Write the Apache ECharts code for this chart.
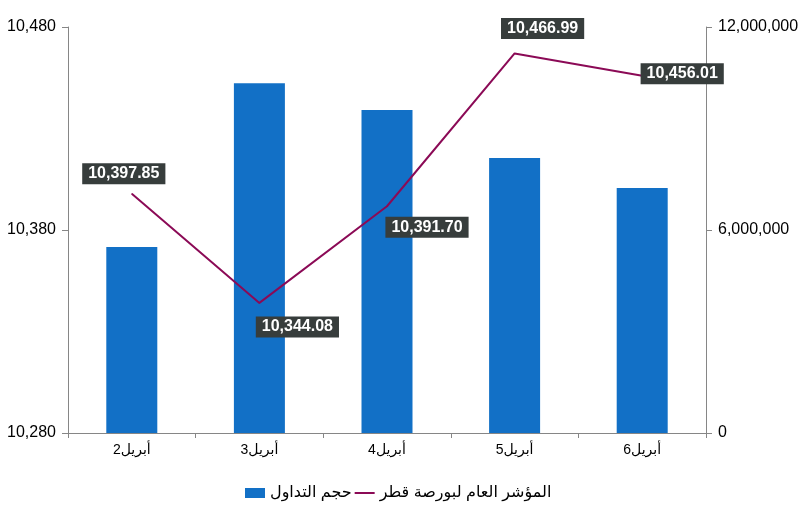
<!DOCTYPE html>
<html>
<head>
<meta charset="utf-8">
<script src="https://cdn.jsdelivr.net/npm/echarts@6/dist/echarts.min.js"></script>
<style>
  html, body { margin: 0; padding: 0; background: #fff; }
  #chart { width: 807px; height: 509px; }
</style>
</head>
<body>
<div id="chart"></div>
<script>
const categories = ['أبريل2', 'أبريل3', 'أبريل4', 'أبريل5', 'أبريل6'];
const volumeValues = [5500000, 10340000, 9550000, 8130000, 7240000];
const indexValues = [10397.85, 10344.08, 10391.70, 10466.99, 10456.01];
const volumeName = 'حجم التداول';
const indexName = 'المؤشر العام لبورصة قطر';
// label nudges, px from the point
const labelOffsets = [[-8, -20], [38, 24], [40, 21], [28, -25], [40, -2]];

const font = '"Liberation Sans", Arial, "DejaVu Sans", sans-serif';
const axisGrey = '#868686';
const lineColor = '#8B0A56';

const chart = echarts.init(document.getElementById('chart'));

chart.setOption({
  animation: false,
  textStyle: { fontFamily: font },
  grid: { left: 68, right: 101, top: 27, bottom: 76 },
  legend: {
    top: 480,
    left: 240,
    itemGap: 3,
    itemWidth: 20,
    itemHeight: 10,
    textStyle: { fontSize: 16, color: '#000', fontFamily: font },
    data: [
      { name: volumeName, icon: 'rect' },
      { name: indexName, icon: 'path://M0,0H20V2H0Z' }
    ]
  },
  xAxis: {
    type: 'category',
    data: categories,
    axisLine: { lineStyle: { color: axisGrey } },
    axisTick: { show: true, length: 5, lineStyle: { color: axisGrey } },
    axisLabel: { color: '#000', fontSize: 14, margin: 10, fontFamily: font }
  },
  yAxis: [
    {
      type: 'value',
      min: 10280,
      max: 10480,
      interval: 100,
      position: 'left',
      splitLine: { show: false },
      axisLine: { show: true, lineStyle: { color: axisGrey } },
      axisTick: { show: true, length: 6, lineStyle: { color: axisGrey } },
      axisLabel: {
        color: '#000', fontSize: 16, margin: 12,
        formatter: v => v.toLocaleString('en-US')
      }
    },
    {
      type: 'value',
      min: 0,
      max: 12000000,
      interval: 6000000,
      position: 'right',
      splitLine: { show: false },
      axisLine: { show: true, lineStyle: { color: axisGrey } },
      axisTick: { show: true, length: 6, lineStyle: { color: axisGrey } },
      axisLabel: {
        color: '#000', fontSize: 16, margin: 12,
        formatter: v => v.toLocaleString('en-US')
      }
    }
  ],
  series: [
    {
      name: volumeName,
      type: 'bar',
      yAxisIndex: 1,
      barWidth: 51,
      itemStyle: { color: '#1270C6' },
      data: volumeValues
    },
    {
      name: indexName,
      type: 'line',
      yAxisIndex: 0,
      symbol: 'circle',
      symbolSize: 1,
      itemStyle: { color: lineColor },
      lineStyle: { color: lineColor, width: 2 },
      data: indexValues.map((v, i) => ({
        value: v,
        label: {
          show: true,
          position: 'inside',
          offset: labelOffsets[i],
          formatter: p => p.value.toLocaleString('en-US', { minimumFractionDigits: 2, maximumFractionDigits: 2 }),
          color: '#fff',
          fontWeight: 'bold',
          fontSize: 16,
          fontFamily: font,
          backgroundColor: '#373D3C',
          padding: [3, 6, 2, 6]
        }
      }))
    }
  ]
});
</script>
</body>
</html>
